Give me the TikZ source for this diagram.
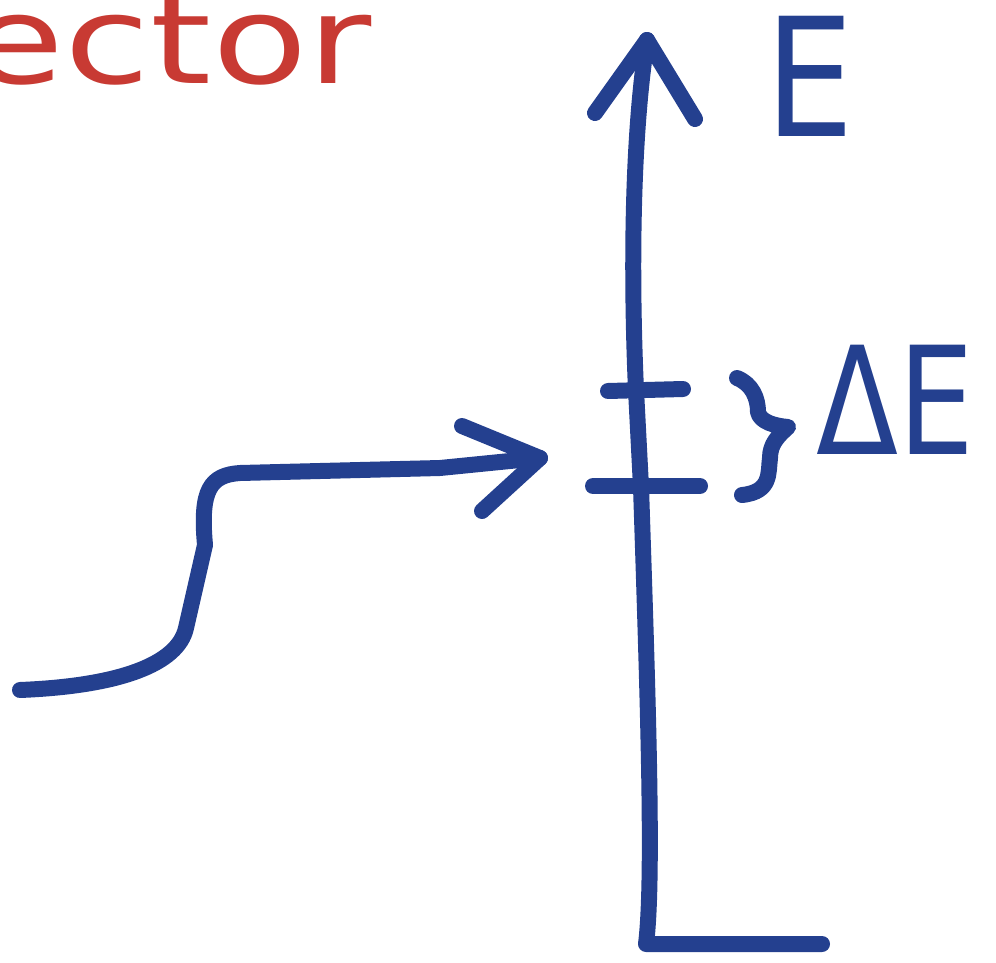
\documentclass[tikz,border=0pt]{standalone}
\usepackage{fontspec}
\setmainfont{DejaVu Sans}
\definecolor{inkblue}{HTML}{24408F}
\definecolor{inkred}{HTML}{C83A33}
\begin{document}
\begin{tikzpicture}[x=1pt,y=-1pt,
  pen/.style={line width=16pt,line cap=round,line join=round,draw=inkblue},
  bluetext/.style={text=inkblue,inner sep=0pt},
  redtext/.style={text=inkred,inner sep=0pt}]
\useasboundingbox (0,0) rectangle (996,963);
\clip (0,0) rectangle (996,963);
% red partial word
\node[redtext,anchor=base east,font=\fontsize{122}{122}\selectfont] (word) at (372,84) {\scalebox{1.28}[1]{ector}};
% energy axis
\coordinate (top) at (647,40);
\coordinate (corner) at (646,944);
\coordinate (axend) at (822,944);
\coordinate (hl) at (595,113);
\coordinate (hr) at (695,119);
\draw[pen] (top) .. controls (630,150) and (632,300) .. (636,390) -- (641,487)
  .. controls (648,700) and (654,880) .. (corner) -- (axend);
\draw[pen] (hl) -- (top) -- (hr);
% ticks
\coordinate (t1a) at (608,391); \coordinate (t1b) at (683,389);
\coordinate (t2a) at (593,486); \coordinate (t2b) at (700,486);
\draw[pen] (t1a) -- (t1b);
\draw[pen] (t2a) -- (t2b);
% brace
\coordinate (b1) at (737,378); \coordinate (b2) at (742,495);
\draw[pen] (b1) .. controls (752,384) and (758,398) .. (758,412)
  .. controls (760,422) and (775,426) .. (788,427)
  .. controls (778,436) and (770,444) .. (770,458)
  .. controls (768,472) and (772,492) .. (b2);
% labels
\node[bluetext,font=\fontsize{165}{165}\selectfont] (E) at (810,76) {\scalebox{0.85}[1]{E}};
\node[bluetext,font=\fontsize{150}{150}\selectfont] (dE) at (895,400) {\scalebox{0.8}[1]{ΔE}};
% incoming curved arrow
\coordinate (start) at (20,690);
\coordinate (tip) at (540,458);
\coordinate (a1) at (462,426);
\coordinate (a2) at (482,511);
\draw[pen] (start) .. controls (120,686) and (178,664) .. (186,628) -- (205,545)
  .. controls (200,490) and (210,475) .. (240,473) -- (440,468) -- (tip);
\draw[pen] (a1) -- (tip) -- (a2);
\end{tikzpicture}
\end{document}
